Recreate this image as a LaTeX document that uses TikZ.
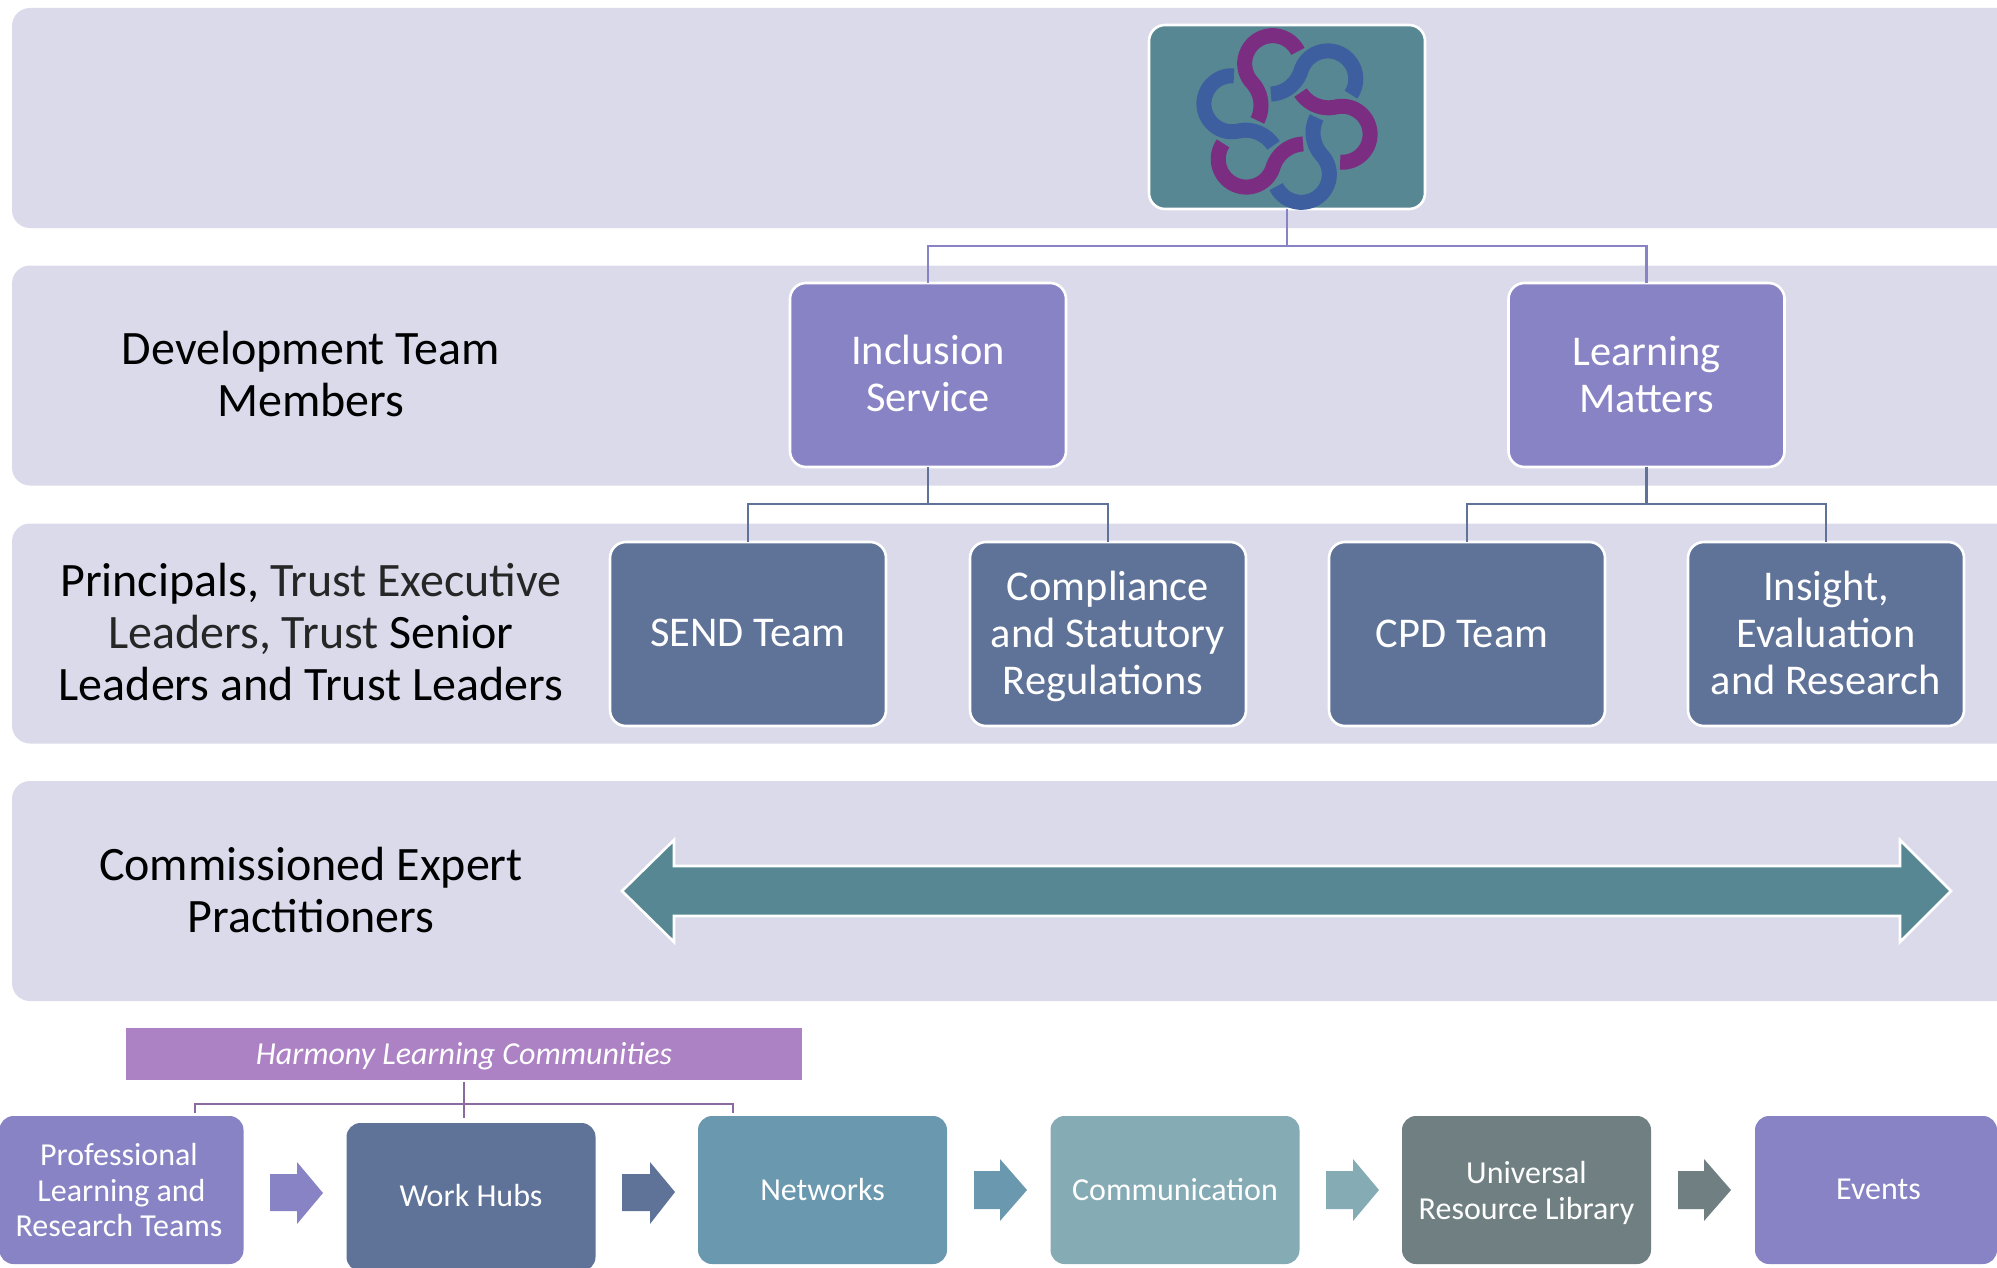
\documentclass[tikz,border=0pt]{standalone}
\usepackage{fontspec}
\setmainfont{Carlito}
\definecolor{band}{HTML}{DADAEB}
\definecolor{lilac}{HTML}{8883C4}
\definecolor{slate}{HTML}{5F7298}
\definecolor{teal}{HTML}{578792}
\definecolor{net}{HTML}{6A98AF}
\definecolor{comm}{HTML}{85ABB5}
\definecolor{univ}{HTML}{6F7F82}
\definecolor{harm}{HTML}{AC82C4}
\definecolor{hline}{HTML}{8A6A9F}
\definecolor{lpurple}{HTML}{7B2D82}
\definecolor{lblue}{HTML}{3D5E9F}
\newcommand{\upby}[1]{\rule[-#1]{0pt}{0pt}}
\newcommand{\downby}[1]{\rule{0pt}{#1}}
\tikzset{
  bandbox/.style={fill=band,rounded corners=9pt,minimum width=1100pt,minimum height=110pt,inner sep=0pt,outer sep=0pt},
  bandtext/.style={align=center,font=\fontsize{24}{25.8}\selectfont,text=black,inner sep=0pt},
  orgbox/.style={draw=white,line width=1.3pt,rounded corners=8pt,minimum width=138pt,minimum height=92pt,inner sep=0pt,outer sep=0pt,align=center,text=white,font=\fontsize{21.2}{23.5}\selectfont},
  flowbox/.style={rounded corners=7pt,minimum width=124.5pt,minimum height=74pt,inner sep=0pt,outer sep=0pt,align=center,text=white,font=\fontsize{16}{17.8}\selectfont},
  blockarrow/.style={fill=#1,draw=none},
  orgline/.style={line width=1.3pt,draw=#1},
  hubline/.style={line width=1.3pt,draw=hline}
}
\begin{document}
\begin{tikzpicture}[x=0.5pt,y=-0.5pt]
\clip (0,0) rectangle (1997,1268);
\node[bandbox] (b1) at (1112,118) {};
\node[bandbox] (b2) at (1112,375.5) {};
\node[bandbox] (b3) at (1112,633.5) {};
\node[bandbox] (b4) at (1112,891) {};

\node[orgbox,fill=teal] (logo) at (1287,117) {};
\node[orgbox,fill=lilac] (inc) at (928,375) {Inclusion\\Service\upby{1.3pt}};
\node[orgbox,fill=lilac] (lm) at (1646.5,375) {Learning\\Matters};
\node[orgbox,fill=slate] (send) at (748,634) {SEND Team\upby{1.3pt}};
\node[orgbox,fill=slate] (comp) at (1108,634) {\downby{17.3pt}Compliance\\and Statutory\\Regulations\hspace*{5pt}};
\node[orgbox,fill=slate] (cpd) at (1467,634) {CPD Team\hspace*{5pt}};
\node[orgbox,fill=slate] (ins) at (1826,634) {Insight,\\Evaluation\\and Research\upby{1.3pt}};

\draw[orgline=lilac] (logo.south) -- ++(0,37) -| (inc.north);
\draw[orgline=lilac] (logo.south) -- ++(0,37) -| (lm.north);
\draw[orgline=slate] (inc.south) -- ++(0,37) -| (send.north);
\draw[orgline=slate] (inc.south) -- ++(0,37) -| (comp.north);
\draw[orgline=slate] (lm.south) -- ++(0,37) -| (cpd.north);
\draw[orgline=slate] (lm.south) -- ++(0,37) -| (ins.north);

\node[bandtext] (t2) at (311,374) {Development Team\\Members};
\node[bandtext] (t3) at (311,632) {Principals, {\color{black!85}Trust Executive}\\{\color{black!85}Leaders, Trust} Senior\\Leaders and Trust Leaders};
\node[bandtext] (t4) at (311,890) {Commissioned Expert\\Practitioners};

\draw[fill=teal,draw=white,line width=1.3pt,miter limit=10]
  (622,891) -- (674,840) -- (674,866) -- (1900,866) -- (1900,840) -- (1951,891)
  -- (1900,942) -- (1900,916) -- (674,916) -- (674,942) -- cycle;

% logo
\begin{scope}[shift={(1130,10)},x=0.16667pt,y=-0.16667pt]
\foreach \ang/\col in {0/lpurple,60/lblue,120/lpurple,180/lblue,240/lpurple,300/lblue}{
  \begin{scope}[rotate around={\ang:(471,327)}]
  \draw[draw=\col,line width=7.5pt,line cap=butt]
    plot[smooth,domain=26:222.6,samples=40,variable=\t] ({428+84*cos(\t)},{161-84*sin(\t)})
    -- plot[smooth,domain=42.6:-27,samples=20,variable=\t] ({293+100*cos(\t)},{286-100*sin(\t)});
  \end{scope}
}
\end{scope}

% lower flow
\node[fill=harm,minimum width=338pt,minimum height=26pt,inner sep=0pt,outer sep=0pt,text=white,font=\fontsize{16}{18}\itshape\selectfont] (hlc) at (464,1053.5) {\downby{14.2pt}Harmony Learning Communities};
\node[flowbox,fill=lilac,minimum width=122pt] (pl) at (121.5,1190) {Professional\hspace*{2.5pt}\\Learning and\hspace*{2.5pt}\\Research Teams\hspace*{2.5pt}};
\node[flowbox,fill=slate] (wh) at (471,1197) {Work Hubs\upby{1.3pt}};
\node[flowbox,fill=net] (nw) at (822.5,1190) {\raisebox{0.5pt}{Networks}};
\node[flowbox,fill=comm] (cm) at (1175,1190) {\raisebox{0.5pt}{Communication}};
\node[flowbox,fill=univ] (ur) at (1526.5,1190) {\downby{14.2pt}Universal\\Resource Library};
\node[flowbox,fill=lilac,minimum width=121pt] (ev) at (1876,1190) {\hspace*{2.5pt}\raisebox{0.5pt}{Events}};

\coordinate (hj) at (464,1104);
\draw[hubline] ([yshift=-1pt]hlc.south) -- (hj) -- (464,1118);
\draw[hubline] (195,1113) -- (195,1104) -- (hj) -- (733,1104) -- (733,1113);

\path[blockarrow=lilac] (270,1174) -- (297,1174) -- (297,1162) -- (323,1193) -- (297,1224) -- (297,1211) -- (270,1211) -- cycle;
\path[blockarrow=slate] (622,1174) -- (650,1174) -- (650,1162) -- (675,1192) -- (650,1224) -- (650,1211) -- (622,1211) -- cycle;
\path[blockarrow=net] (974,1171) -- (1000,1171) -- (1000,1159) -- (1027,1190) -- (1000,1221) -- (1000,1209) -- (974,1209) -- cycle;
\path[blockarrow=comm] (1326,1171) -- (1353,1171) -- (1353,1159) -- (1379,1190) -- (1353,1221) -- (1353,1209) -- (1326,1209) -- cycle;
\path[blockarrow=univ] (1678,1171) -- (1704,1171) -- (1704,1159) -- (1731,1190) -- (1704,1221) -- (1704,1209) -- (1678,1209) -- cycle;
\end{tikzpicture}
\end{document}
